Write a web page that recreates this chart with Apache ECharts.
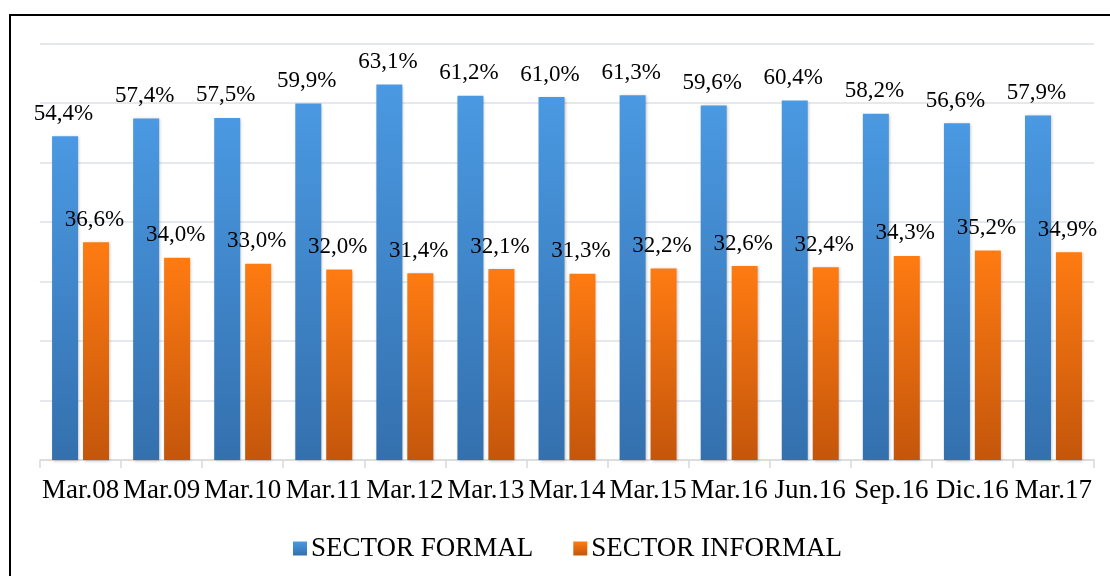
<!DOCTYPE html>
<html><head><meta charset="utf-8">
<script src="https://cdn.jsdelivr.net/npm/echarts@6/dist/echarts.min.js"></script>
<style>html,body{margin:0;padding:0;background:#fff}#c{width:1110px;height:576px}</style>
</head><body><div id="c"></div>
<script>
var categories = ['Mar.08','Mar.09','Mar.10','Mar.11','Mar.12','Mar.13','Mar.14','Mar.15','Mar.16','Jun.16','Sep.16','Dic.16','Mar.17'];
var formal = [54.4,57.4,57.5,59.9,63.1,61.2,61.0,61.3,59.6,60.4,58.2,56.6,57.9];
var informal = [36.6,34.0,33.0,32.0,31.4,32.1,31.3,32.2,32.6,32.4,34.3,35.2,34.9];
var seriesNames = ['SECTOR FORMAL','SECTOR INFORMAL'];

var font = '"Liberation Serif","Times New Roman",serif';
function fmt(p){ return p.value.toFixed(1).replace('.', ',') + '%'; }
function grad(a,b){ return new echarts.graphic.LinearGradient(0,0,0,1,[{offset:0,color:a},{offset:1,color:b}]); }
var chart = echarts.init(document.getElementById('c'), null, {renderer:'canvas'});
var lbl = {show:true, position:'top', distance:11, offset:[-1.5,0], formatter:fmt, color:'#000', fontFamily:font, fontSize:23};
chart.setOption({
  animation:false,
  graphic:[{type:'rect', shape:{x:10,y:15,width:1110,height:580}, style:{fill:'none', stroke:'#000', lineWidth:2}, z:100}],
  grid:{left:40, right:16, top:43.5, bottom:116},
  legend:{
    data:seriesNames, left:288, top:530, itemWidth:14, itemHeight:14, itemGap:40,
    icon:'rect',
    textStyle:{fontFamily:font, fontSize:27, color:'#000', padding:[0,0,0,-1]}
  },
  xAxis:{
    type:'category', data:categories,
    axisLine:{lineStyle:{color:'#d9d9d9', width:1.5}},
    axisTick:{show:true, length:8, lineStyle:{color:'#d9d9d9', width:1.5}},
    axisLabel:{interval:0, fontFamily:font, fontSize:27, color:'#000', margin:17}
  },
  yAxis:{
    type:'value', min:0, max:70, interval:10,
    axisLabel:{show:false}, axisLine:{show:false}, axisTick:{show:false},
    splitLine:{lineStyle:{color:'#dde1e6', width:1.5}}
  },
  series:[
    {name:seriesNames[0], type:'bar', data:formal, barWidth:26, barGap:'19%',
     itemStyle:{color:grad('#4a99e2','#3470ae'), shadowBlur:3, shadowColor:'rgba(0,0,0,0.25)', shadowOffsetX:1, shadowOffsetY:1},
     label:lbl},
    {name:seriesNames[1], type:'bar', data:informal, barWidth:26,
     itemStyle:{color:grad('#ff7b12','#c4560b'), shadowBlur:3, shadowColor:'rgba(0,0,0,0.25)', shadowOffsetX:1, shadowOffsetY:1},
     label:lbl}
  ]
});
</script></body></html>
